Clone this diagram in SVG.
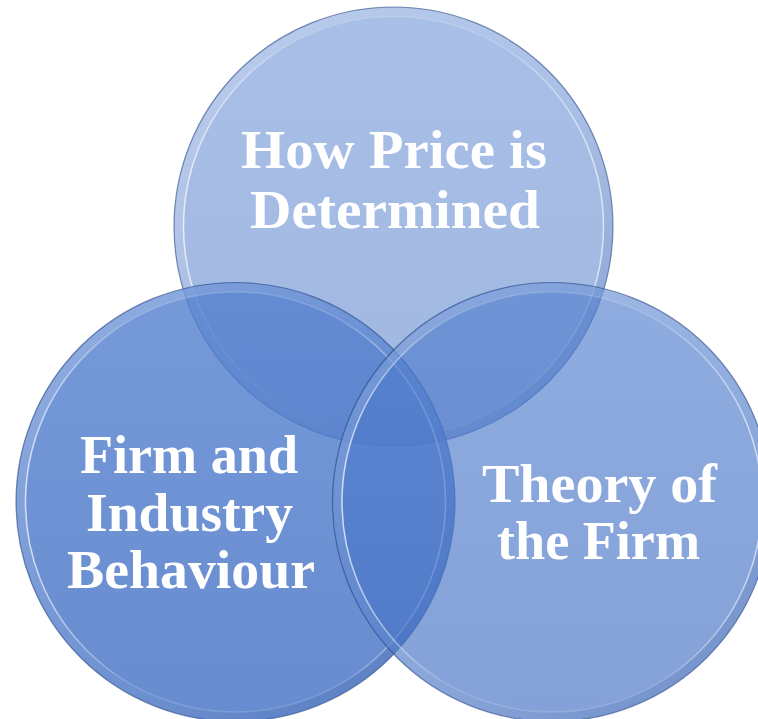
<svg xmlns="http://www.w3.org/2000/svg" width="758" height="719" viewBox="0 0 758 719">
<defs>
<linearGradient id="fillG" x1="0" y1="0" x2="0" y2="1">
<stop offset="0" stop-color="#5380cf"/>
<stop offset="1" stop-color="#416fc3"/>
</linearGradient>
<linearGradient id="bandG" x1="0" y1="0" x2="1" y2="1">
<stop offset="0" stop-color="#ffffff" stop-opacity="0.22"/>
<stop offset="0.5" stop-color="#ffffff" stop-opacity="0.06"/>
<stop offset="0.8" stop-color="#1c3c80" stop-opacity="0.1"/>
<stop offset="1" stop-color="#1c3c80" stop-opacity="0.18"/>
</linearGradient>
<linearGradient id="hiG" x1="0" y1="0" x2="1" y2="0">
<stop offset="0" stop-color="#ffffff" stop-opacity="0.7"/>
<stop offset="0.25" stop-color="#ffffff" stop-opacity="0.15"/>
<stop offset="0.75" stop-color="#ffffff" stop-opacity="0.15"/>
<stop offset="1" stop-color="#ffffff" stop-opacity="0.65"/>
</linearGradient>
</defs>
<style>
.disc{fill:url(#fillG);}
.band{fill:none;stroke:url(#bandG);stroke-width:9;}
.hi{fill:none;stroke:url(#hiG);stroke-width:1.5;}
.edge{fill:none;stroke:#2c4a86;stroke-opacity:0.6;stroke-width:1.2;}
.lbl{font-family:"Liberation Serif","Times New Roman",serif;font-weight:bold;font-size:54px;fill:#ffffff;text-anchor:middle;}
</style>
<g id="node-price">
<circle class="disc" cx="393.5" cy="226.5" r="219.5" fill-opacity="0.5"/>
<circle class="band" cx="393.5" cy="226.5" r="214.5"/>
<circle class="hi" cx="393.5" cy="226.5" r="210"/>
<circle class="edge" cx="393.5" cy="226.5" r="219.5"/>
<text class="lbl" x="394" y="168" textLength="306" lengthAdjust="spacingAndGlyphs">How Price is</text>
<text class="lbl" x="395" y="228" textLength="290" lengthAdjust="spacingAndGlyphs">Determined</text>
</g>
<g id="node-firm-industry">
<circle class="disc" cx="235.5" cy="502" r="219.5" fill-opacity="0.8"/>
<circle class="band" cx="235.5" cy="502" r="214.5"/>
<circle class="hi" cx="235.5" cy="502" r="210"/>
<circle class="edge" cx="235.5" cy="502" r="219.5"/>
<text class="lbl" x="189" y="473" textLength="218" lengthAdjust="spacingAndGlyphs">Firm and</text>
<text class="lbl" x="189.5" y="531" textLength="207" lengthAdjust="spacingAndGlyphs">Industry</text>
<text class="lbl" x="191" y="588" textLength="248" lengthAdjust="spacingAndGlyphs">Behaviour</text>
</g>
<g id="node-theory">
<circle class="disc" cx="552" cy="502" r="219.5" fill-opacity="0.65"/>
<circle class="band" cx="552" cy="502" r="214.5"/>
<circle class="hi" cx="552" cy="502" r="210"/>
<circle class="edge" cx="552" cy="502" r="219.5"/>
<text class="lbl" x="599.5" y="502" textLength="235" lengthAdjust="spacingAndGlyphs">Theory of</text>
<text class="lbl" x="598.5" y="559" textLength="203" lengthAdjust="spacingAndGlyphs">the Firm</text>
</g>
<g id="connectors"></g>
</svg>
